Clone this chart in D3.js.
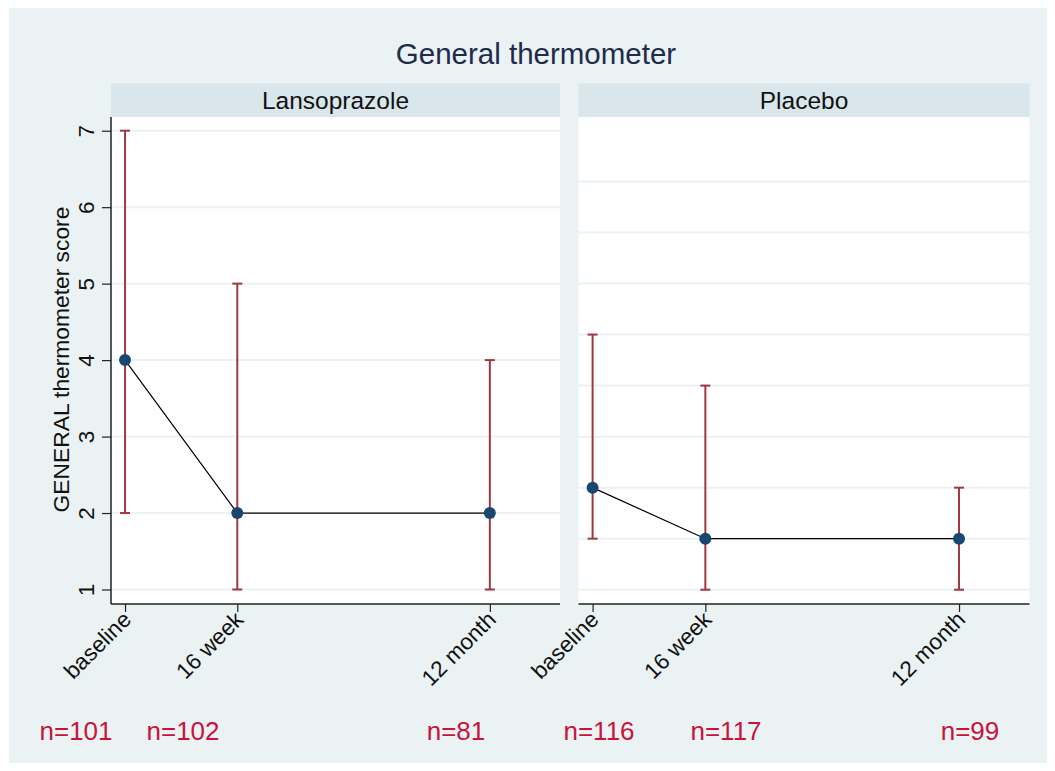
<!DOCTYPE html>
<html>
<head>
<meta charset="utf-8">
<script src="https://cdn.jsdelivr.net/npm/d3@7"></script>
<style>
  html, body { margin: 0; padding: 0; background: #ffffff; }
  svg { display: block; font-family: "Liberation Sans", Arial, Helvetica, sans-serif; }
</style>
</head>
<body>
<svg id="chart" width="1055" height="771"></svg>
<script>
// Visit times in weeks and their axis labels
const weeks = [0, 16, 52];
const visitLabels = ["baseline", "16 week", "12 month"];

// Lansoprazole: median score with interquartile range
const lansoMedian = [4, 2, 2];
const lansoLow = [2, 1, 1];
const lansoHigh = [7, 5, 4];
const lansoN = [101, 102, 81];

// Placebo: median score with interquartile range
const placeboMedian = [3, 2, 2];
const placeboLow = [2, 1, 1];
const placeboHigh = [6, 5, 3];
const placeboN = [116, 117, 99];

// Y axis tick values for each panel
const lansoTicks = [1, 2, 3, 4, 5, 6, 7];
const placeboTicks = [1, 2, 3, 4, 5, 6, 7, 8, 9];

const panels = [
  { name: "Lansoprazole", median: lansoMedian, low: lansoLow, high: lansoHigh, n: lansoN,
    ticks: lansoTicks, showY: true },
  { name: "Placebo", median: placeboMedian, low: placeboLow, high: placeboHigh, n: placeboN,
    ticks: placeboTicks, showY: false }
];

const colors = {
  bg: "#eaf2f3",
  strip: "#d9e6eb",
  grid: "#eaf2f3",
  bar: "#a0393f",
  marker: "#1a476f",
  line: "#000000",
  axis: "#222222",
  title: "#1e2b4c",
  note: "#c8143c"
};

const svg = d3.select("#chart");

// Graph region
svg.append("rect").attr("x", 9).attr("y", 8).attr("width", 1038).attr("height", 755)
  .attr("fill", colors.bg);

// Title
svg.append("text").attr("x", 536).attr("y", 64).attr("text-anchor", "middle")
  .attr("font-size", 29.5).attr("fill", colors.title).text("General thermometer");

// Panel layout
const plotTop = 117, plotBottom = 604;
const stripTop = 83.5;
const panelX = [[111, 560], [578.5, 1029.5]];
const yRanges = [
  { domain: [1, 7], range: [589.5, 130.7] },
  { domain: [1, 9], range: [589.7, 181.5] }
];
const nLabelX = [[76, 183, 456], [599, 726, 970]];

panels.forEach((p, i) => {
  const [x0, x1] = panelX[i];
  const x = d3.scaleLinear().domain([-2, 62]).range([x0, x1]);
  const y = d3.scaleLinear().domain(yRanges[i].domain).range(yRanges[i].range);
  const g = svg.append("g");

  // strip header
  g.append("rect").attr("x", x0).attr("y", stripTop).attr("width", x1 - x0)
    .attr("height", plotTop - stripTop).attr("fill", colors.strip);
  g.append("text").attr("x", (x0 + x1) / 2).attr("y", 108.5).attr("text-anchor", "middle")
    .attr("font-size", 24.5).attr("fill", "#111").text(p.name);

  // plot region
  g.append("rect").attr("x", x0).attr("y", plotTop).attr("width", x1 - x0)
    .attr("height", plotBottom - plotTop).attr("fill", "#ffffff");

  // gridlines
  g.selectAll(".grid").data(p.ticks).enter().append("line")
    .attr("x1", x0).attr("x2", x1)
    .attr("y1", d => y(d)).attr("y2", d => y(d))
    .attr("stroke", colors.grid).attr("stroke-width", 2);

  // y axis
  if (p.showY) {
    const yAxis = d3.axisLeft(y).tickValues(p.ticks).tickSize(9).tickPadding(3)
      .tickFormat(d3.format("d"));
    const ya = g.append("g").attr("transform", `translate(${x0},0)`).call(yAxis);
    ya.select(".domain").attr("d", `M0,${plotTop}V${plotBottom}`)
      .attr("stroke", colors.axis).attr("stroke-width", 1.5);
    ya.selectAll(".tick line").attr("stroke", colors.axis).attr("stroke-width", 1.2);
    ya.selectAll(".tick text")
      .attr("font-size", 22.5).attr("fill", "#111")
      .attr("x", null).attr("dy", null)
      .attr("text-anchor", "middle")
      .attr("transform", "translate(-17.5,0) rotate(-90)");
    g.append("text")
      .attr("transform", `translate(68.5,${(plotTop + plotBottom) / 2 - 1}) rotate(-90)`)
      .attr("text-anchor", "middle").attr("font-size", 22.8).attr("fill", "#111")
      .text("GENERAL thermometer score");
  }

  // x axis
  const xAxis = d3.axisBottom(x).tickValues(weeks).tickSize(8).tickPadding(4)
    .tickFormat((d, k) => visitLabels[k]);
  const xa = g.append("g").attr("transform", `translate(0,${plotBottom})`).call(xAxis);
  xa.select(".domain").attr("d", `M${x0},0H${x1}`)
    .attr("stroke", colors.axis).attr("stroke-width", 1.5);
  xa.selectAll(".tick line").attr("stroke", colors.axis).attr("stroke-width", 1.2);
  xa.selectAll(".tick text")
    .attr("font-size", 22.5).attr("fill", "#111")
    .attr("y", null).attr("dy", null)
    .attr("text-anchor", "end")
    .attr("transform", "translate(7,17) rotate(-45)");

  const rows = weeks.map((w, k) => ({ w, m: p.median[k], lo: p.low[k], hi: p.high[k] }));

  // interquartile bars with caps
  const bars = g.append("g").attr("stroke", colors.bar).attr("stroke-width", 2);
  rows.forEach(r => {
    bars.append("line").attr("x1", x(r.w)).attr("x2", x(r.w))
      .attr("y1", y(r.lo)).attr("y2", y(r.hi));
    [r.lo, r.hi].forEach(v => {
      bars.append("line").attr("x1", x(r.w) - 5).attr("x2", x(r.w) + 5)
        .attr("y1", y(v)).attr("y2", y(v));
    });
  });

  // connecting line
  g.append("path").datum(rows)
    .attr("d", d3.line().x(r => x(r.w)).y(r => y(r.m)))
    .attr("fill", "none").attr("stroke", colors.line).attr("stroke-width", 1.2);

  // markers
  g.selectAll(".pt").data(rows).enter().append("circle")
    .attr("cx", r => x(r.w)).attr("cy", r => y(r.m)).attr("r", 6)
    .attr("fill", colors.marker);

  // sample sizes
  p.n.forEach((n, k) => {
    svg.append("text").attr("x", nLabelX[i][k]).attr("y", 740)
      .attr("text-anchor", "middle").attr("font-size", 26).attr("fill", colors.note)
      .text("n=" + n);
  });
});
</script>
</body>
</html>
